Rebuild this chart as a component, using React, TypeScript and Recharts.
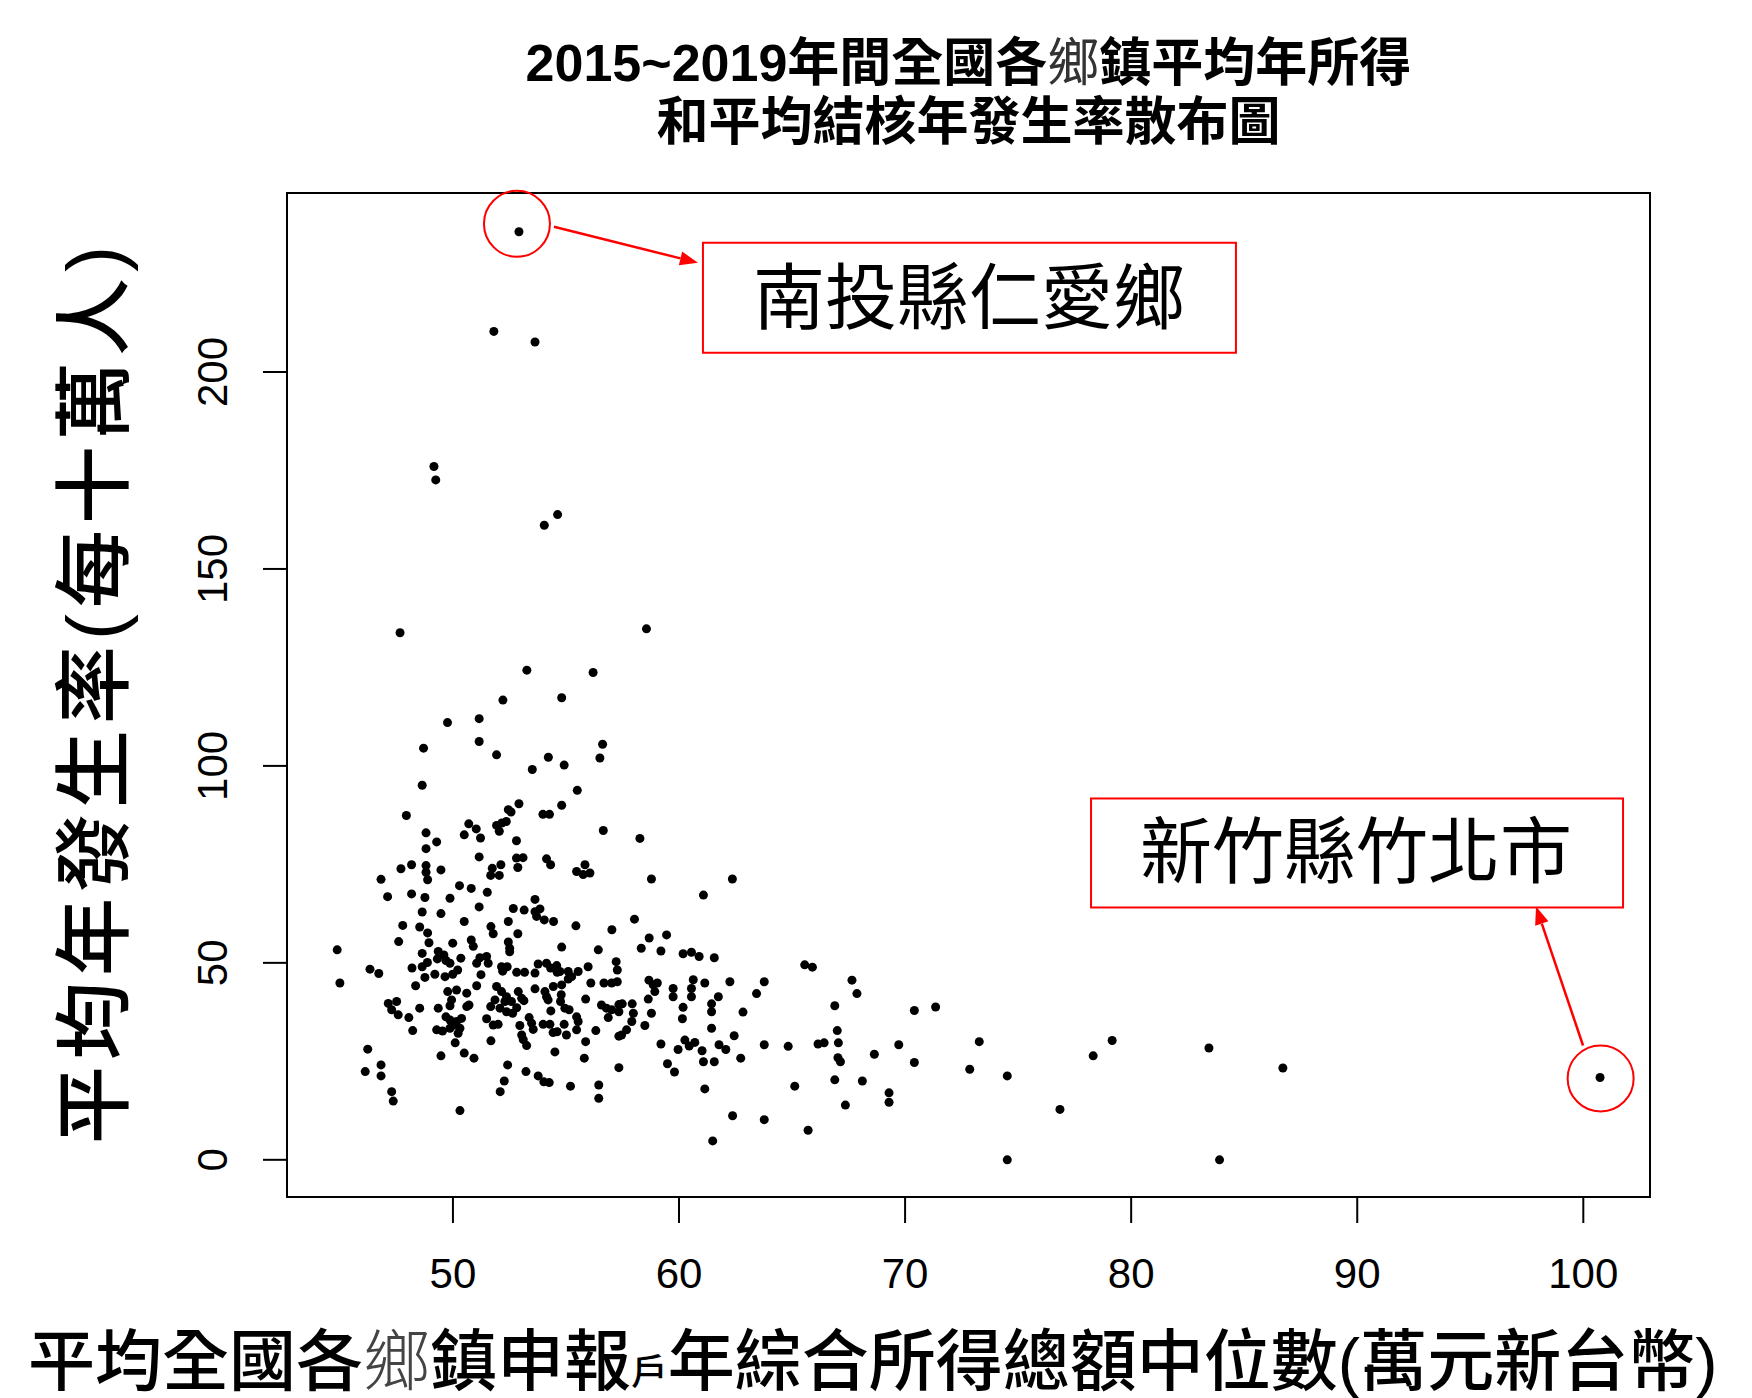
import React from "react";
import { ReferenceArea, ReferenceDot, Scatter, ScatterChart, XAxis, YAxis } from "recharts";

// 各鄉鎮申報戶綜合所得總額中位數（萬元）
const medianIncome = [
  52.92, 51.81, 53.63, 49.16, 49.24, 54.63, 54.04, 47.66, 58.56, 53.27, 56.2,
  52.21, 54.81, 49.76, 51.16,
  56.62, 56.5, 56.65, 58.27, 58.78, 62.36, 61.08,
  48.7, 51.16, 51.93, 54.22, 54.92, 53.51, 48.64, 55.5, 47.94, 52.92, 52.45, 52.57, 54.81, 53.98,
  54.27, 50.7, 51.03, 50.5, 51.22, 51.93, 52.16, 52.36, 52.05, 48.81, 49.28, 48.81, 52.81, 51.16,
  52.81, 53.1, 52.87, 54.14, 54.32, 51.74, 52.12, 51.67, 52.05, 47.7, 48.17, 48.81, 48.81, 48.88,
  49.47, 46.82, 55.47, 55.84, 55.76, 56.06, 47.11, 48.17, 48.76, 49.87, 50.29, 50.81, 51.52, 51.16,
  53.63, 52.67, 53.15, 53.63, 53.85, 53.7, 54.04, 54.45, 55.44, 57.03, 48.64, 49.47, 47.78, 48.53,
  48.88, 50.5, 51.68, 51.78, 52.45, 52.87, 47.6, 48.94, 49.99, 50.81, 50.9, 52.45, 52.51, 54.81,
  56.43, 44.88,
  52.51, 45.0, 46.33, 46.72, 48.64, 49.35, 49.6, 49.31, 49.69, 49.87, 50.35, 51.05, 51.19, 51.49,
  51.56, 48.19, 48.64, 48.87, 48.76, 48.35, 49.2, 49.65, 49.99, 50.21, 51.05, 51.24, 52.15, 52.4,
  52.2, 52.82, 53.17, 53.63, 53.77, 54.14, 54.32, 54.59, 54.61, 54.73, 55.1, 55.25, 55.1, 55.54,
  55.98, 56.1, 56.68, 57.02, 57.27, 57.22, 57.27, 54.81, 54.44, 53.63, 54.07, 54.21, 54.14, 54.79,
  54.76, 54.95, 55.14, 54.33, 55.87, 56.57, 56.79, 57.02, 56.87, 57.34, 57.34, 51.93, 52.15, 52.37,
  52.59, 52.3, 51.86, 51.67, 52.08, 52.37, 52.64, 52.82, 52.89, 53.04, 53.14, 51.49, 51.78, 52.0,
  51.68, 52.96, 53.37, 53.48, 53.55, 53.04, 53.11, 53.26, 53.99, 54.29, 54.92, 54.43, 54.61, 55.02,
  55.47, 55.54, 55.47, 55.87, 56.32, 57.34, 54.51, 55.81, 57.34, 52.42, 53.23, 53.77, 54.02, 54.26,
  55.2, 56.45, 56.45, 52.27, 52.09, 50.31, 46.23, 46.82, 46.12, 46.82, 47.29, 47.36, 49.47, 50.5,
  50.93, 50.1, 48.22, 48.05, 47.14, 47.51, 47.29, 47.58, 48.53, 49.35, 49.77, 50.16, 50.61, 49.94,
  49.87, 50.61, 50.71, 49.69, 49.87, 50.16, 50.38, 50.31, 50.09, 49.28, 49.54, 49.87, 50.23,
  58.03, 58.68, 59.45, 58.33, 59.2, 60.18, 60.55, 60.89, 61.56, 65.56, 65.9, 67.65, 67.87, 66.89,
  58.67, 58.86, 59.04, 58.93, 58.64, 59.74, 59.74, 60.63, 60.55, 60.55, 61.14, 62.25, 63.77, 63.43,
  61.74, 61.44, 61.44, 60.18, 60.15, 58.78, 58.49, 57.49, 57.93, 57.98, 57.91, 57.68, 57.46, 62.83,
  61.44, 62.44, 59.2, 59.96, 60.26, 60.45, 60.7, 61.02, 61.77, 62.07, 61.08, 61.56, 62.73, 59.49,
  59.8, 63.77, 64.83, 66.15, 66.42, 67.0, 67.05, 67.03, 67.14, 66.89, 68.11, 68.64, 69.72, 69.29,
  69.29, 67.36, 65.12, 61.14, 62.37, 63.77, 65.71, 61.49,
  70.41, 71.35, 70.41, 73.28, 72.86, 74.52, 74.52, 76.85, 78.32, 79.16, 83.44, 83.91, 86.71, 100.74,
];

// 平均結核年發生率（每十萬人）
const tbIncidence = [
  235.6, 210.3, 207.6, 176.0, 172.6, 163.8, 161.1, 133.8, 134.8, 124.3, 123.7,
  116.7, 117.3, 111.0, 112.0,
  105.5, 102.0, 83.6, 81.6, 71.3, 71.3, 67.2,
  104.5, 106.2, 102.8, 102.2, 100.2, 99.1, 95.1, 93.8, 87.4, 90.4, 88.9, 88.3, 90.0, 87.7,
  87.7, 85.3, 84.0, 82.5, 81.7, 84.9, 85.5, 85.9, 83.4, 83.0, 80.7, 79.0, 81.0, 76.9,
  76.6, 76.7, 74.2, 76.4, 74.9, 74.0, 74.9, 72.2, 72.2, 73.9, 74.9, 74.7, 73.0, 71.1,
  73.6, 71.2, 73.2, 74.9, 72.4, 72.8, 66.8, 67.5, 66.6, 66.4, 69.6, 68.9, 67.9, 64.2,
  66.1, 63.8, 63.4, 63.0, 63.7, 61.8, 60.9, 60.5, 59.4, 58.4, 62.9, 62.5, 59.5, 59.1,
  57.6, 60.5, 59.2, 57.4, 60.5, 57.4, 55.4, 55.1, 55.0, 55.8, 54.2, 55.3, 53.7, 54.0,
  53.3, 53.3,
  52.8, 44.9, 48.4, 47.3, 52.4, 52.9, 52.0, 51.0, 50.6, 49.9, 51.2, 49.9, 51.3, 51.6,
  49.9, 48.7, 49.0, 50.1, 46.3, 44.2, 47.1, 46.5, 47.1, 48.2, 44.2, 47.0, 49.0, 49.0,
  47.9, 47.6, 47.6, 47.4, 49.7, 49.9, 48.7, 49.3, 47.6, 47.8, 47.8, 46.5, 45.9, 47.8,
  49.0, 44.9, 44.9, 44.9, 45.2, 50.3, 48.2, 44.4, 44.0, 43.4, 42.7, 40.6, 41.4, 41.9,
  40.2, 38.5, 38.1, 37.8, 40.8, 39.3, 38.5, 38.1, 36.1, 39.4, 37.6, 44.0, 42.7, 41.4,
  40.2, 40.2, 40.6, 38.9, 38.5, 37.6, 37.2, 38.6, 42.7, 41.0, 40.4, 35.8, 34.2, 34.4,
  30.2, 34.1, 36.1, 34.7, 33.1, 31.7, 30.5, 29.0, 34.4, 34.4, 34.4, 32.3, 32.5, 31.7,
  33.0, 35.1, 36.3, 30.0, 32.8, 31.4, 27.4, 25.8, 23.4, 24.1, 22.4, 21.3, 19.8, 19.6,
  18.7, 19.0, 15.6, 20.0, 17.3, 12.5, 28.1, 24.1, 22.4, 21.3, 17.3, 14.9, 26.4, 27.1,
  25.8, 29.7, 32.8, 36.1, 39.7, 40.2, 38.1, 36.8, 38.5, 38.5, 42.7, 43.1, 42.3, 40.6,
  39.1, 38.9, 39.3, 36.3, 35.5, 35.1, 35.9, 33.4, 34.2, 33.0, 32.7, 33.4, 32.1,
  61.1, 56.3, 57.1, 53.7, 53.0, 52.3, 52.7, 51.6, 51.3, 49.5, 48.9, 45.6, 42.2, 39.1,
  45.6, 44.4, 44.9, 42.7, 40.8, 43.5, 41.4, 45.7, 43.5, 41.4, 44.9, 45.2, 45.2, 42.2,
  41.4, 39.6, 37.6, 38.7, 35.8, 37.2, 34.1, 39.6, 39.6, 37.2, 35.1, 33.0, 31.7, 37.5,
  33.4, 31.5, 29.4, 28.0, 30.4, 28.9, 29.8, 27.7, 29.2, 28.0, 24.9, 24.9, 25.8, 24.4,
  22.3, 29.2, 28.8, 29.4, 29.7, 32.8, 29.7, 25.9, 24.9, 20.3, 20.0, 26.8, 29.2, 17.0,
  14.6, 13.9, 18.7, 18.0, 11.2, 10.2, 7.5, 4.8,
  37.9, 38.8, 24.7, 30.0, 23.0, 21.3, 0, 12.8, 26.4, 30.3, 28.4, 0, 23.3, 20.9,
];

const xTicks = [50, 60, 70, 80, 90, 100];
const yTicks = [0, 50, 100, 150, 200];
const xDomain = [42.66, 102.95];
const yDomain = [-9.44, 245.44];

const points = medianIncome.map((x, i) => ({ x, y: tbIncidence[i] }));

// the two highlighted towns: highest incidence and highest income
const renaiIdx = tbIncidence.indexOf(Math.max(...tbIncidence));
const zhubeiIdx = medianIncome.indexOf(Math.max(...medianIncome));

const CJK = "'Liberation Sans', 'Noto Sans CJK TC', sans-serif";
const RED = "#ff0000";

const XTick = ({ x, y, payload }: any) => (
  <text x={x} y={y + 63} textAnchor="middle" fontSize={42} fontFamily="'Liberation Sans', Arial, sans-serif" fill="#000">
    {payload.value}
  </text>
);

const YTick = ({ x, y, payload }: any) => (
  <text
    x={x - 34}
    y={y}
    transform={`rotate(-90, ${x - 34}, ${y})`}
    textAnchor="middle"
    fontSize={42}
    fontFamily="'Liberation Sans', Arial, sans-serif"
    fill="#000"
  >
    {payload.value}
  </text>
);

const Dot = ({ cx, cy }: any) => <circle cx={cx} cy={cy} r={4.5} fill="#000" />;

function Arrow({ x1, y1, x2, y2 }: { x1: number; y1: number; x2: number; y2: number }) {
  const len = Math.hypot(x2 - x1, y2 - y1);
  const ux = (x2 - x1) / len;
  const uy = (y2 - y1) / len;
  const head = 18;
  const half = 7;
  const bx = x2 - ux * head;
  const by = y2 - uy * head;
  return (
    <g>
      <line x1={x1} y1={y1} x2={bx} y2={by} stroke={RED} strokeWidth={2.5} />
      <polygon
        points={`${x2},${y2} ${bx - uy * half},${by + ux * half} ${bx + uy * half},${by - ux * half}`}
        fill={RED}
      />
    </g>
  );
}

const RenaiCallout = ({ cx, cy }: any) => (
  <g>
    <circle cx={cx - 2} cy={cy - 8} r={33} fill="none" stroke={RED} strokeWidth={2} />
    <Arrow x1={cx + 35} y1={cy - 5} x2={cx + 179} y2={cy + 31} />
    <rect x={cx + 184} y={cy + 11} width={533} height={110} fill="#fff" stroke={RED} strokeWidth={2} />
    <text x={cx + 450} y={cy + 66} textAnchor="middle" dominantBaseline="central" fontSize={72} fontFamily={CJK} fill="#000">
      南投縣仁愛鄉
    </text>
  </g>
);

const ZhubeiCallout = ({ cx, cy }: any) => (
  <g>
    <circle cx={cx + 0.6} cy={cy + 1} r={33} fill="none" stroke={RED} strokeWidth={2} />
    <Arrow x1={cx - 17} y1={cy - 32} x2={cx - 64} y2={cy - 171} />
    <rect x={cx - 509} y={cy - 279} width={532} height={109} fill="#fff" stroke={RED} strokeWidth={2} />
    <text x={cx - 244} y={cy - 225} textAnchor="middle" dominantBaseline="central" fontSize={72} fontFamily={CJK} fill="#000">
      新竹縣竹北市
    </text>
  </g>
);

const thin: React.CSSProperties = { fontWeight: 400, color: "#333" };

export default function App() {
  return (
    <div
      style={{
        position: "absolute",
        left: 0,
        top: 0,
        width: 1752,
        height: 1398,
        background: "#fff",
        overflow: "hidden",
        fontFamily: CJK,
      }}
    >
      <div style={{ position: "absolute", left: 287, width: 1363, top: 37, textAlign: "center", fontSize: 52, lineHeight: "52px", fontWeight: 700 }}>
        2015~2019年間全國各<span style={thin}>鄉</span>鎮平均年所得
      </div>
      <div style={{ position: "absolute", left: 287, width: 1363, top: 96, textAlign: "center", fontSize: 52, lineHeight: "52px", fontWeight: 700 }}>
        和平均結核年發生率散布圖
      </div>
      <div
        style={{
          position: "absolute",
          left: 95,
          top: 692,
          transform: "translate(-50%, -50%) rotate(-90deg)",
          whiteSpace: "nowrap",
          fontSize: 78,
          lineHeight: "78px",
          letterSpacing: 6,
          fontWeight: 500,
        }}
      >
        平均年發生率(每十萬人)
      </div>
      <div style={{ position: "absolute", left: 28, top: 1328, whiteSpace: "nowrap", fontSize: 67, lineHeight: "67px", fontWeight: 500 }}>
        平均全國各<span style={{ fontWeight: 300, color: "#444" }}>鄉</span>鎮申報<span style={{ fontSize: "0.55em" }}>戶</span>
        年綜合所得總額中位數(萬元新台幣)
      </div>

      <div style={{ position: "absolute", left: 0, top: 0 }}>
        <ScatterChart width={1752} height={1398} margin={{ top: 193, right: 102, bottom: 121, left: 207 }}>
          <XAxis
            type="number"
            dataKey="x"
            domain={xDomain}
            ticks={xTicks}
            allowDataOverflow
            height={80}
            axisLine={false}
            tickLine={{ stroke: "#000", strokeWidth: 2 }}
            tickSize={26}
            tickMargin={2}
            tick={<XTick />}
          />
          <YAxis
            type="number"
            dataKey="y"
            domain={yDomain}
            ticks={yTicks}
            allowDataOverflow
            width={80}
            axisLine={false}
            tickLine={{ stroke: "#000", strokeWidth: 2 }}
            tickSize={24}
            tickMargin={2}
            tick={<YTick />}
          />
          <ReferenceArea
            x1={xDomain[0]}
            x2={xDomain[1]}
            y1={yDomain[0]}
            y2={yDomain[1]}
            fill="none"
            fillOpacity={0}
            stroke="#000"
            strokeWidth={2}
            ifOverflow="visible"
          />
          <Scatter data={points} shape={<Dot />} isAnimationActive={false} />
          <ReferenceDot
            x={medianIncome[renaiIdx]}
            y={tbIncidence[renaiIdx]}
            ifOverflow="visible"
            shape={(p: any) => <RenaiCallout {...p} />}
          />
          <ReferenceDot
            x={medianIncome[zhubeiIdx]}
            y={tbIncidence[zhubeiIdx]}
            ifOverflow="visible"
            shape={(p: any) => <ZhubeiCallout {...p} />}
          />
        </ScatterChart>
      </div>
    </div>
  );
}
